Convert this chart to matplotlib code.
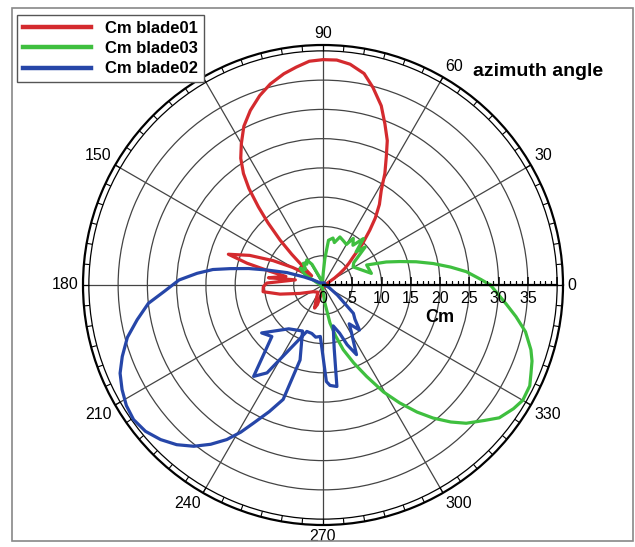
import numpy as np
import matplotlib.pyplot as plt
from matplotlib.patches import Rectangle

plt.rcParams['font.family'] = ['Liberation Sans', 'DejaVu Sans']

# blade moment coefficient Cm against azimuth angle (deg), in drawing order
az_b1 = [0, 15, 25, 31, 34.5, 37, 40, 43, 46, 49.5,
         52, 55, 58.4, 61, 63.7, 66, 69, 72, 75.8, 79,
         83, 86.5, 90, 93.5, 97, 100.5, 104.7, 108.5, 112.6, 116.5,
         120, 123, 125.5, 127.5, 129.6, 131.5, 133.7, 135.5, 137.5, 141,
         146, 150, 154, 158, 162, 164, 165.5, 167, 172.4, 169.5,
         178, 181.6, 186.4, 192, 200, 215, 235, 245, 250, 254,
         260, 270, 300, 330, 360]
cm_b1 = [0.4, 0.5, 1, 2.3, 3.5, 4.6, 5.8, 7.1, 9.6, 12.3,
         14.5, 16.8, 19, 21.8, 24.4, 27, 29.5, 32.2, 34.8, 36.8,
         38, 38.5, 38.5, 38.3, 37.5, 36.7, 35.5, 34.1, 32.3, 30.3,
         27.9, 25.8, 23.4, 20.8, 17.3, 14.2, 10.6, 7.5, 4.5, 2.5,
         3.5, 6, 9.5, 13.5, 17, 13.5, 9.5, 6.5, 9.4, 4.8,
         9.6, 10.2, 10.3, 7.5, 4.2, 2, 1.5, 2.8, 4.2, 3.5,
         1.5, 0.5, 0.4, 0.4, 0.4]

az_b3 = [0, 2, 5.3, 8, 11, 14, 17, 20, 24.6, 13.5,
         31, 36, 42, 45, 49, 53, 57, 60, 65, 70.6,
         75, 78, 83, 86, 89, 95, 110, 118, 123, 128,
         132, 138, 144, 150, 160, 180, 220, 260, 272, 276,
         280.4, 284, 287.4, 291.5, 295.5, 299.5, 303, 306.5, 309.6, 313,
         316, 320, 323, 327, 330, 334, 337, 340, 342.7, 347,
         350.7, 354, 360]
cm_b3 = [28.6, 27, 24.6, 22, 19.2, 16.4, 13.7, 11.5, 8.2, 8.5,
         6, 6.5, 9.7, 8, 10.5, 8.5, 9.5, 8, 8.3, 8.7,
         7.5, 8.2, 7.7, 4.5, 2, 0.8, 1, 4, 5.1, 4.5,
         5, 4, 4.8, 3.5, 1, 0.4, 0.4, 0.4, 1.5, 3.1,
         6.6, 9, 11.6, 14.3, 17.3, 21, 24, 27, 29.5, 32,
         34, 36, 37.7, 38.8, 39.4, 39.3, 38.6, 38, 37.2, 35.5,
         33.4, 31.5, 28.6]

az_b2 = [0, 60, 120, 145, 150, 153, 157, 161, 165, 167.5,
         170, 172, 174.7, 178, 182.4, 186, 190.6, 195, 199.6, 203.5,
         207.5, 211.5, 215.4, 219.5, 223.6, 227.5, 231.3, 234.8, 238.1, 240.8,
         243.3, 247, 250.8, 253, 246, 232, 218, 225.2, 232.8, 237.5,
         250.8, 257, 262, 267, 272, 274, 277.8, 280, 284, 289,
         292, 295.7, 299, 300.7, 304, 309, 313, 317, 325, 340,
         360]
cm_b2 = [0.4, 0.4, 0.4, 0.6, 1.2, 1.9, 3.5, 6.5, 9.9, 13,
         16.1, 19, 21.6, 24.6, 27.2, 30, 32.3, 34.6, 36.4, 37.8,
         38.7, 39.4, 39.7, 39.3, 38.3, 37, 35.3, 33.3, 31.1, 28.8,
         26.4, 23.5, 20.7, 13.4, 8.6, 9.5, 13.3, 12.4, 19.6, 17.8,
         8.4, 8.5, 9, 8.8, 16.5, 17.2, 17.5, 11, 7.2, 8.7,
         11, 13.2, 10.5, 9.6, 8, 9.9, 8, 7.1, 3, 1,
         0.4]

series = [
    ('Cm blade01', az_b1, cm_b1, '#d42a2e'),
    ('Cm blade03', az_b3, cm_b3, '#3fbf3f'),
    ('Cm blade02', az_b2, cm_b2, '#2646a8'),
]

theta_ticks = list(range(0, 360, 30))
r_ticks = list(range(0, 40, 5))

W, H = 635, 547
fig = plt.figure(figsize=(W / 100, H / 100), dpi=100)
cx, cy, R = 323, 285, 240
ax = fig.add_axes([(cx - R) / W, (H - cy - R) / H, 2 * R / W, 2 * R / H],
                  projection='polar')
ax.set_rlim(0, 41)
ax.set_thetagrids(theta_ticks, labels=[])
ax.set_rgrids(np.arange(5, 45, 5), labels=[])
ax.grid(True, color='#444444', lw=0.9)
ax.yaxis.get_gridlines()[-1].set_color('black')
ax.spines['polar'].set_linewidth(1.6)
ax.tick_params(length=0)

# ticks round the outer ring every 5 degrees
ax.vlines(np.deg2rad(np.arange(0, 360, 5)), 40, 41, color='black', lw=0.8)

for label, az, cm, col in series:
    ax.plot(np.deg2rad(az), cm, color=col, lw=2.3, label=label,
            solid_joinstyle='round')

# radial scale drawn along the 0 degree spoke
ax.plot([0, 0], [0, 40], color='black', lw=1.6, zorder=5)
minor = [v for v in range(1, 40) if v % 5]
ax.plot(np.zeros(len(minor)), minor, ls='none', marker=2, ms=3, mew=0.9,
        color='black', zorder=5)
ax.plot(np.zeros(8), np.arange(5, 45, 5), ls='none', marker=2, ms=6, mew=1.1,
        color='black', zorder=5)
for v in r_ticks:
    ax.annotate(str(v), xy=(0, v), xytext=(0, -4.5), textcoords='offset points',
                ha='center', va='top', fontsize=11.5)
ax.annotate('Cm', xy=(0, 20), xytext=(0, -17), textcoords='offset points',
            ha='center', va='top', fontsize=13, fontweight='bold')

# azimuth labels outside the ring (120 sits under the legend box)
for t in theta_ticks:
    if t == 120:
        continue
    c, s = np.cos(np.deg2rad(t)), np.sin(np.deg2rad(t))
    ha = 'left' if c > 0.1 else ('right' if c < -0.1 else 'center')
    va = 'bottom' if s > 0.1 else ('top' if s < -0.1 else 'center')
    ax.text(np.deg2rad(t), 41.7, str(t), ha=ha, va=va, fontsize=11.5)

fig.text(473 / W, 1 - 72 / H, 'azimuth angle', ha='left', va='center',
         fontsize=14, fontweight='bold')

leg = fig.legend(loc='upper left', bbox_to_anchor=(17 / W, 1 - 15 / H),
                 borderaxespad=0, frameon=True, fancybox=False,
                 edgecolor='#555555', framealpha=1, handlelength=4.1,
                 handletextpad=0.85, labelspacing=0.32, borderpad=0.35,
                 prop=dict(weight='bold', size=12))
for h in leg.legend_handles:
    h.set_linewidth(3.2)

fig.add_artist(Rectangle((12 / W, 1 - 541 / H), 621 / W, 533 / H,
                         transform=fig.transFigure, fill=False, ec='#888888', lw=1.2))

fig.savefig('out.png', dpi=100)
